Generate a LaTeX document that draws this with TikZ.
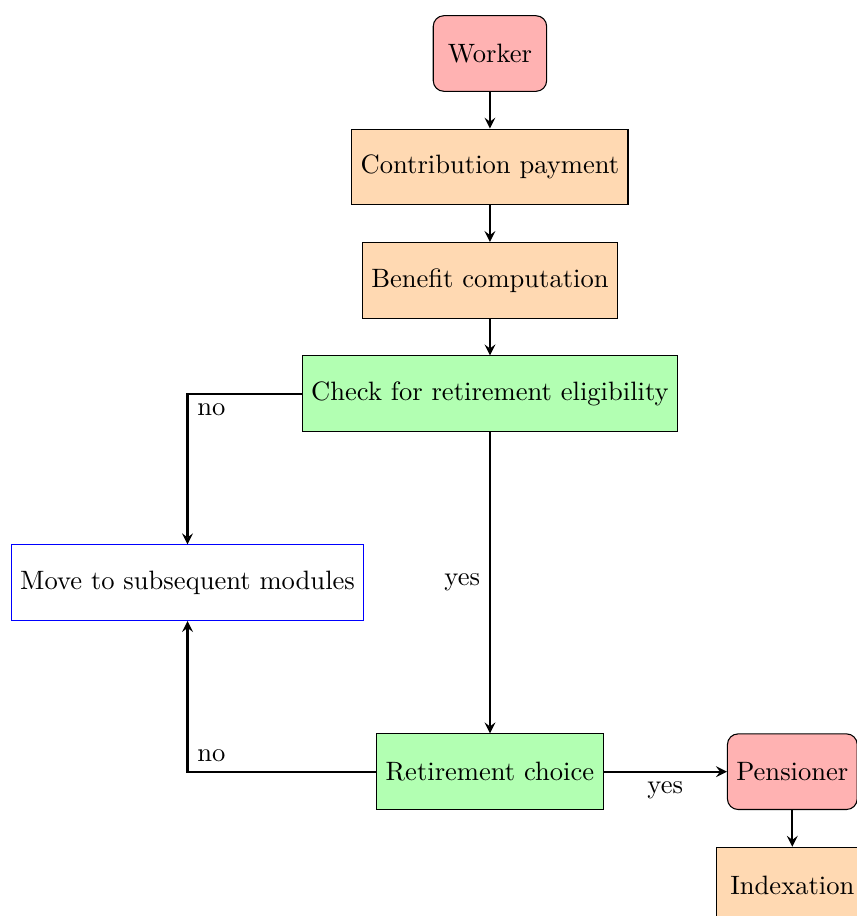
\documentclass[tikz,border=0pt]{standalone}
\usetikzlibrary{positioning}
\begin{document}
\begin{tikzpicture}[
  startstop/.style={rectangle, rounded corners, minimum width=1.5cm, minimum height=1cm, draw=black, fill=red!30},
  process/.style={rectangle, minimum width=2cm, minimum height=1cm, draw=black, fill=orange!30},
  decision/.style={rectangle, minimum height=1cm, draw=black, fill=green!30},
  outbox/.style={rectangle, minimum height=1cm, draw=blue},
  arrow/.style={thick,-stealth}
]
\useasboundingbox (-6.481,0.708) rectangle (4.854,-11.409);
\node[startstop] (worker) at (0,0) {Worker};
\node[process] (contrib) at (0,-1.5) {Contribution payment};
\node[process] (benefit) at (0,-3) {Benefit computation};
\node[decision] (check) at (0,-4.5) {Check for retirement eligibility};
\node[outbox] (move) at (-4,-7) {Move to subsequent modules};
\node[decision] (choice) at (0,-9.5) {Retirement choice};
\node[startstop] (pens) at (4,-9.5) {Pensioner};
\node[process] (index) at (4,-11) {Indexation};
\draw[arrow] (worker) -- (contrib);
\draw[arrow] (contrib) -- (benefit);
\draw[arrow] (benefit) -- (check);
\draw[arrow] (check.west) -| node[below right] {no} (move.north);
\draw[arrow] (check) -- node[midway,left] {yes} (choice);
\draw[arrow] (choice.west) -| node[above right] {no} (move.south);
\draw[arrow] (choice) -- node[midway,below] {yes} (pens);
\draw[arrow] (pens) -- (index);
\end{tikzpicture}
\end{document}
